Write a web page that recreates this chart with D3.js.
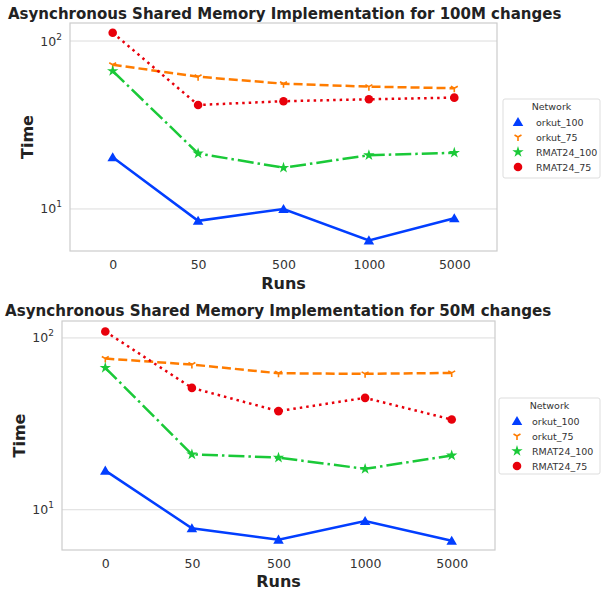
<!DOCTYPE html>
<html>
<head>
<meta charset="utf-8">
<script src="https://cdn.jsdelivr.net/npm/d3@7"></script>
<style>
  body { margin: 0; background: white; }
  text { font-family: "DejaVu Sans", sans-serif; }
</style>
</head>
<body>
<svg id="chart" width="604" height="594"></svg>
<script>
// categories
var runs = ['0', '50', '500', '1000', '5000']
var networks = ['orkut_100', 'orkut_75', 'RMAT24_100', 'RMAT24_75']

// 100M changes
var orkut100_100M = [20.3, 8.5, 10.0, 6.5, 8.8]
var orkut75_100M = [72.2, 61.3, 55.7, 53.5, 52.3]
var rmat100_100M = [66.3, 21.4, 17.6, 20.9, 21.6]
var rmat75_100M = [112, 41.6, 43.8, 45.0, 46.0]

// 50M changes
var orkut100_50M = [16.9, 7.8, 6.7, 8.6, 6.6]
var orkut75_50M = [75.9, 70.0, 62.3, 61.8, 62.6]
var rmat100_50M = [67.0, 21.0, 20.1, 17.3, 20.7]
var rmat75_50M = [109, 51.2, 37.5, 44.8, 33.5]

var yTicks = [10, 100]

var colors = ['#023eff', '#ff7c00', '#1ac938', '#e8000b']
var dashes = [null, '9,4', '16,4,2.5,4', '2.5,4']

var panels = [
  { title: 'Asynchronous Shared Memory Implementation for 100M changes',
    series: [orkut100_100M, orkut75_100M, rmat100_100M, rmat75_100M],
    left: 70, right: 497, top: 23, bottom: 251, ymin: 5.62, ymax: 128,
    titleX: 8, titleY: 19, titleSize: 15, ylabX: 27, xlabY: 289,
    legend: { x: 503, y: 99, w: 97, h: 79, mx: 518, tx: 536 } },
  { title: 'Asynchronous Shared Memory Implementation for 50M changes',
    series: [orkut100_50M, orkut75_50M, rmat100_50M, rmat75_50M],
    left: 62, right: 495, top: 321, bottom: 550, ymin: 5.83, ymax: 125.5,
    titleX: 5, titleY: 316, titleSize: 15.1, ylabX: 19, xlabY: 587,
    legend: { x: 499, y: 398, w: 101, h: 76, mx: 517, tx: 532 } }
]

var svg = d3.select('#chart')

function triDown(size) { // matplotlib '1' marker
  var r = size
  return `M0,0L0,${r}M0,0L${-r*0.866},${-r*0.5}M0,0L${r*0.866},${-r*0.5}`
}

function drawMarker(g, i, x, y, c) {
  if (i == 0) {
    g.append('path').attr('d', d3.symbol(d3.symbolTriangle, 48)())
      .attr('transform', `translate(${x},${y + 1})`).attr('fill', c)
  } else if (i == 1) {
    g.append('path').attr('d', triDown(4))
      .attr('transform', `translate(${x},${y})`).attr('stroke', c).attr('stroke-width', 1.6).attr('fill', 'none')
  } else if (i == 2) {
    g.append('path').attr('d', d3.symbol(d3.symbolStar, 40)())
      .attr('transform', `translate(${x},${y})`).attr('fill', c)
  } else {
    g.append('circle').attr('cx', x).attr('cy', y).attr('r', 4.3).attr('fill', c)
  }
}

panels.forEach(p => {
  var g = svg.append('g')
  var x = d3.scalePoint().domain(runs).range([p.left, p.right]).padding(0.5)
  var y = d3.scaleLog().domain([p.ymin, p.ymax]).range([p.bottom, p.top])

  // grid
  g.selectAll('.grid').data(yTicks).enter().append('line')
    .attr('x1', p.left).attr('x2', p.right)
    .attr('y1', d => y(d)).attr('y2', d => y(d))
    .attr('stroke', '#dcdcdc').attr('stroke-width', 1)

  // frame
  g.append('rect').attr('x', p.left).attr('y', p.top)
    .attr('width', p.right - p.left).attr('height', p.bottom - p.top)
    .attr('fill', 'none').attr('stroke', '#cccccc').attr('stroke-width', 1.2)

  // y tick labels
  yTicks.forEach(t => {
    var tx = g.append('text').attr('x', p.left - 8).attr('y', y(t) + 4.5)
      .attr('text-anchor', 'end').attr('font-size', 12.5).attr('fill', '#333')
    tx.append('tspan').text('10')
    tx.append('tspan').attr('dy', -6).attr('font-size', 9).text(Math.log10(t))
  })

  // x tick labels
  var xAxis = d3.axisBottom(x).tickSize(0).tickPadding(9)
  var ax = g.append('g').attr('transform', `translate(0,${p.bottom})`).call(xAxis)
  ax.select('.domain').remove()
  ax.selectAll('text').attr('font-size', 12.5).attr('fill', '#333').attr('font-family', '"DejaVu Sans", sans-serif')

  // lines and markers
  p.series.forEach((vals, i) => {
    var line = d3.line().x((d, j) => x(runs[j])).y(d => y(d))
    g.append('path').datum(vals).attr('d', line)
      .attr('fill', 'none').attr('stroke', colors[i]).attr('stroke-width', 2.5)
      .attr('stroke-dasharray', dashes[i])
    vals.forEach((v, j) => drawMarker(g, i, x(runs[j]), y(v), colors[i]))
  })

  // title
  g.append('text').attr('x', p.titleX).attr('y', p.titleY)
    .attr('font-size', p.titleSize).attr('font-weight', 'bold').attr('fill', '#222').text(p.title)

  // axis labels
  g.append('text').attr('x', (p.left + p.right) / 2).attr('y', p.xlabY)
    .attr('text-anchor', 'middle').attr('font-size', 16).attr('font-weight', 'bold').attr('fill', '#222').text('Runs')
  g.append('text').attr('transform', `translate(${p.ylabX + 6},${(p.top + p.bottom) / 2}) rotate(-90)`)
    .attr('text-anchor', 'middle').attr('font-size', 16).attr('font-weight', 'bold').attr('fill', '#222').text('Time')

  // legend
  var L = p.legend
  var lg = g.append('g')
  lg.append('rect').attr('x', L.x).attr('y', L.y).attr('width', L.w).attr('height', L.h)
    .attr('rx', 2).attr('fill', 'white').attr('stroke', '#dddddd')
  lg.append('text').attr('x', L.x + L.w / 2).attr('y', L.y + 11)
    .attr('text-anchor', 'middle').attr('font-size', 9.5).attr('fill', '#333').text('Network')
  networks.forEach((n, i) => {
    var yy = L.y + 23 + i * 15
    drawMarker(lg, i, L.mx, yy, colors[i])
    lg.append('text').attr('x', L.tx).attr('y', yy + 3.5)
      .attr('font-size', 9.5).attr('fill', '#333').text(n)
  })
})
</script>
</body>
</html>
